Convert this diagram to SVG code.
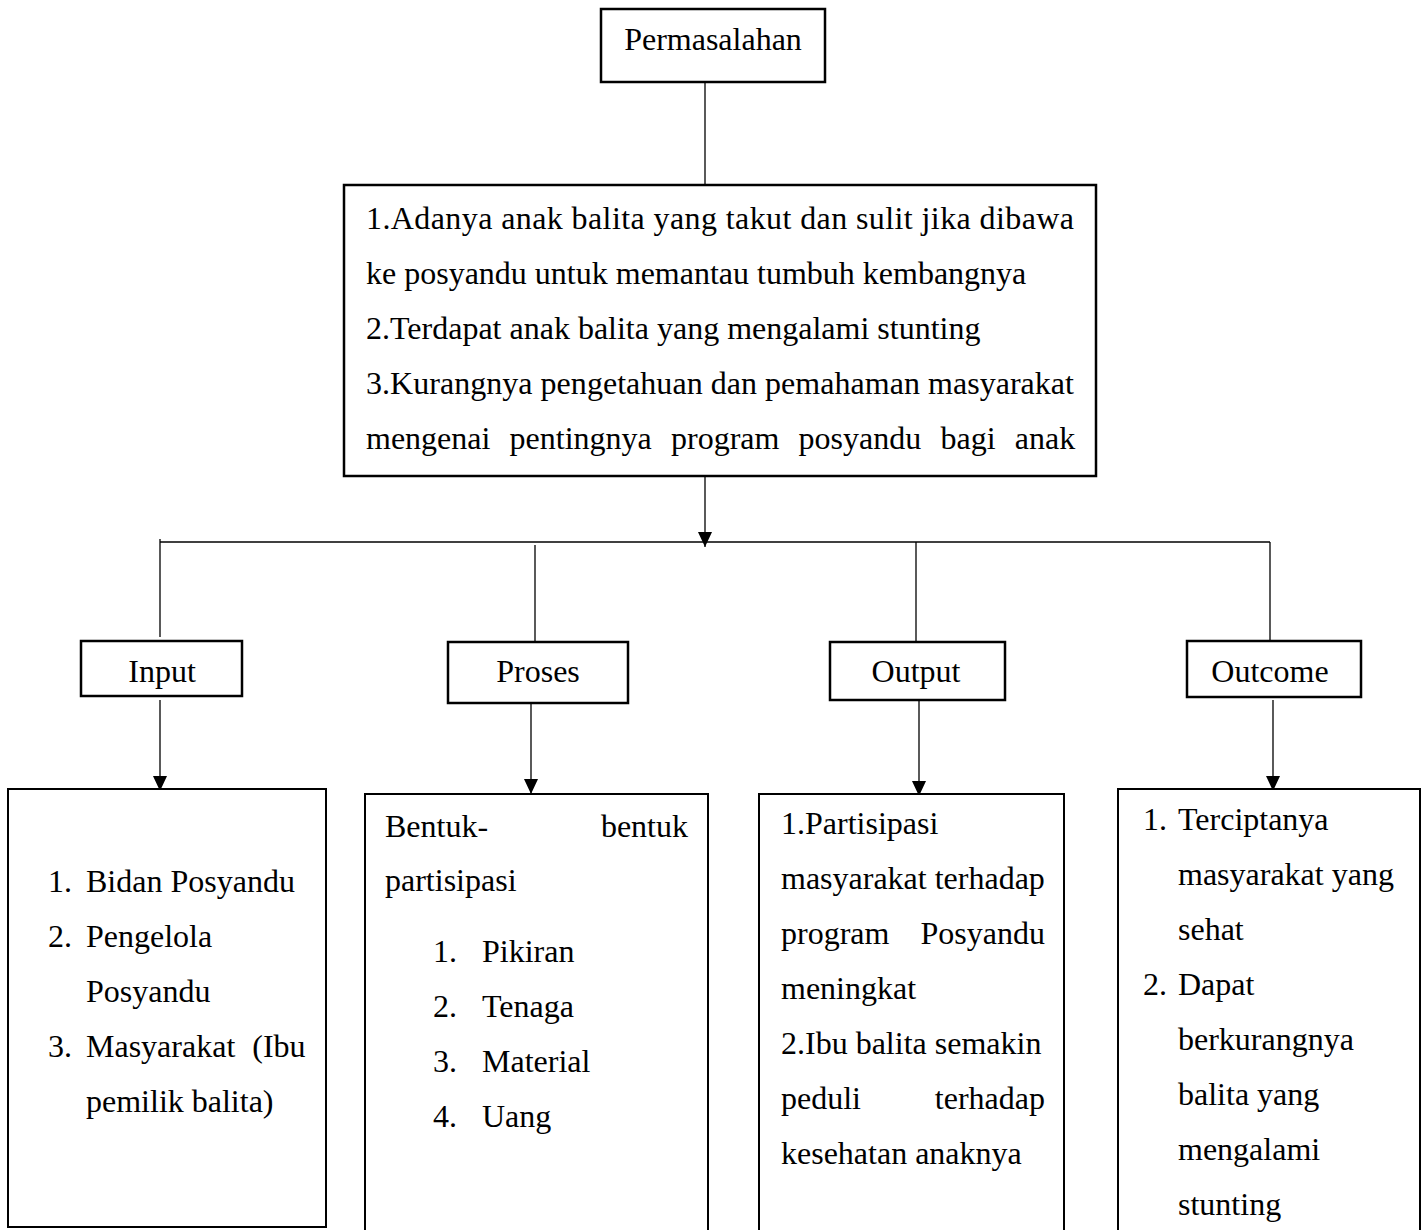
<svg xmlns="http://www.w3.org/2000/svg" width="1427" height="1230" viewBox="0 0 1427 1230">
<style>
text{font-family:"Liberation Serif","Times New Roman",serif;font-size:32px;fill:#000}
.box{fill:#fff;stroke:#000;stroke-width:2.5}
.cbox{fill:#fff;stroke:#000;stroke-width:2}
.c{text-anchor:middle}
.ln{fill:none;stroke:#000;stroke-width:1.3}
</style>
<defs>
<marker id="arr" markerUnits="userSpaceOnUse" markerWidth="16" markerHeight="16" refX="15" refY="7" orient="auto">
<path d="M0,0 L15,7 L0,14 z" fill="#000"/>
</marker>
</defs>
<rect width="1427" height="1230" fill="#fff"/>
<g id="connectors">
<line class="ln" x1="705" y1="82" x2="705" y2="185"/>
<line class="ln" x1="705" y1="476" x2="705" y2="547" marker-end="url(#arr)"/>
<line class="ln" x1="160" y1="542" x2="1270" y2="542"/>
<line class="ln" x1="160" y1="539" x2="160" y2="637"/>
<line class="ln" x1="535" y1="545" x2="535" y2="642"/>
<line class="ln" x1="916" y1="542" x2="916" y2="642"/>
<line class="ln" x1="1270" y1="542" x2="1270" y2="641"/>
<line class="ln" x1="160" y1="700" x2="160" y2="791" marker-end="url(#arr)"/>
<line class="ln" x1="531" y1="699" x2="531" y2="794" marker-end="url(#arr)"/>
<line class="ln" x1="919" y1="700" x2="919" y2="796" marker-end="url(#arr)"/>
<line class="ln" x1="1273" y1="700" x2="1273" y2="791" marker-end="url(#arr)"/>
</g>
<g id="permasalahan">
<rect class="box" x="601" y="9" width="224" height="73"/>
<text class="c" x="713" y="50">Permasalahan</text>
</g>
<g id="masalah">
<rect class="box" x="344" y="185" width="752" height="291"/>
<text x="366" y="229" textLength="708" lengthAdjust="spacing">1.Adanya anak balita yang takut dan sulit jika dibawa</text>
<text x="366" y="284">ke posyandu untuk memantau tumbuh kembangnya</text>
<text x="366" y="339">2.Terdapat anak balita yang mengalami stunting</text>
<text x="366" y="394" textLength="708" lengthAdjust="spacing">3.Kurangnya pengetahuan dan pemahaman masyarakat</text>
<text x="366" y="449" word-spacing="11.2">mengenai pentingnya program posyandu bagi anak</text>
</g>
<g id="input">
<rect class="box" x="81" y="641" width="161" height="55"/>
<text class="c" x="162" y="682">Input</text>
</g>
<g id="proses">
<rect class="box" x="448" y="642" width="180" height="61"/>
<text class="c" x="538" y="682">Proses</text>
</g>
<g id="output">
<rect class="box" x="830" y="642" width="175" height="58"/>
<text class="c" x="916" y="682">Output</text>
</g>
<g id="outcome">
<rect class="box" x="1187" y="641" width="174" height="56"/>
<text class="c" x="1270" y="682">Outcome</text>
</g>
<g id="input-detail">
<rect class="cbox" x="8" y="789" width="318" height="438"/>
<text x="48" y="892">1.</text><text x="86" y="892">Bidan Posyandu</text>
<text x="48" y="947">2.</text><text x="86" y="947">Pengelola</text>
<text x="86" y="1002">Posyandu</text>
<text x="48" y="1057">3.</text><text x="86" y="1057" word-spacing="9">Masyarakat (Ibu</text>
<text x="86" y="1112">pemilik balita)</text>
</g>
<g id="proses-detail">
<rect class="cbox" x="365" y="794" width="343" height="450"/>
<text x="385" y="837">Bentuk-</text>
<text x="688" y="837" text-anchor="end">bentuk</text>
<text x="385" y="891">partisipasi</text>
<text x="433" y="962">1.</text><text x="482" y="962">Pikiran</text>
<text x="433" y="1017">2.</text><text x="482" y="1017">Tenaga</text>
<text x="433" y="1072">3.</text><text x="482" y="1072">Material</text>
<text x="433" y="1127">4.</text><text x="482" y="1127">Uang</text>
</g>
<g id="output-detail">
<rect class="cbox" x="759" y="794" width="305" height="450"/>
<text x="781" y="834">1.Partisipasi</text>
<text x="781" y="889">masyarakat terhadap</text>
<text x="781" y="944">program</text><text x="1045" y="944" text-anchor="end">Posyandu</text>
<text x="781" y="999">meningkat</text>
<text x="781" y="1054">2.Ibu balita semakin</text>
<text x="781" y="1109">peduli</text><text x="1045" y="1109" text-anchor="end">terhadap</text>
<text x="781" y="1164">kesehatan anaknya</text>
</g>
<g id="outcome-detail">
<rect class="cbox" x="1118" y="789" width="302" height="455"/>
<text x="1143" y="830">1.</text><text x="1178" y="830">Terciptanya</text>
<text x="1178" y="885">masyarakat yang</text>
<text x="1178" y="940">sehat</text>
<text x="1143" y="995">2.</text><text x="1178" y="995">Dapat</text>
<text x="1178" y="1050">berkurangnya</text>
<text x="1178" y="1105">balita yang</text>
<text x="1178" y="1160">mengalami</text>
<text x="1178" y="1215">stunting</text>
</g>
</svg>
